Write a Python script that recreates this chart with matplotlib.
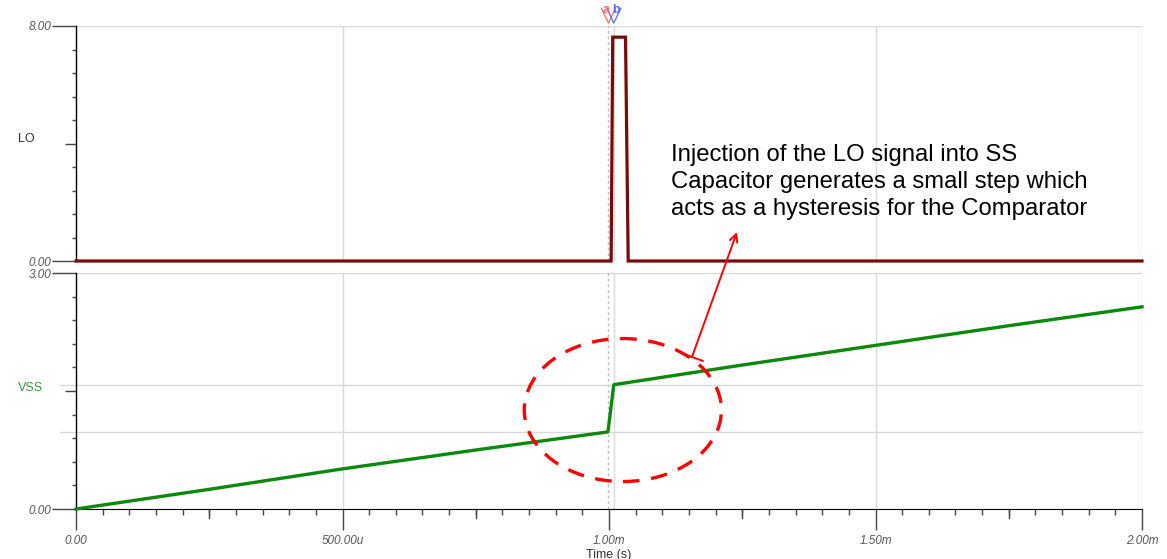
import matplotlib
matplotlib.use("Agg")
import matplotlib.pyplot as plt
from matplotlib.patches import Ellipse
from matplotlib.ticker import MultipleLocator

plt.rcParams['font.family'] = ['Liberation Sans', 'DejaVu Sans']

# time in ms
lo_t = [0.0, 1.004, 1.007, 1.031, 1.036, 2.0]
lo_v = [0.0, 0.0, 7.62, 7.62, 0.0, 0.0]

vss_t = [0.0, 0.25, 0.5, 0.75, 0.998, 1.009, 1.25, 1.5, 1.75, 2.0]
vss_v = [0.0, 0.25, 0.51, 0.75, 0.98, 1.58, 1.83, 2.08, 2.33, 2.57]

x_ticks = [0.0, 0.5, 1.0, 1.5, 2.0]
x_labels = ['0.00', '500.00u', '1.00m', '1.50m', '2.00m']

cursor_a = 0.999
cursor_b = 1.009
vss_a = 0.98
vss_b = 1.58

W, H = 1167, 559
fig = plt.figure(figsize=(W / 100, H / 100), dpi=100)
ax1 = fig.add_axes([76 / W, 1 - 261 / H, (1142 - 76) / W, 235 / H])
ax2 = fig.add_axes([76 / W, 1 - 509 / H, (1142 - 76) / W, 236 / H])

grid_c = '#d9d9d9'
lbl_c = '#555555'

for ax, top in ((ax1, 8.0), (ax2, 3.0)):
    ax.set_xlim(0, 2.0)
    ax.set_ylim(0, top)
    for s in ('top', 'right', 'bottom'):
        ax.spines[s].set_visible(False)
    ax.spines['left'].set_linewidth(1.0)
    ax.yaxis.set_minor_locator(MultipleLocator(top / 10))
    ax.set_yticks([0, top / 2, top])
    ax.set_yticklabels(['0.00', '', '%.2f' % top], fontsize=8.5,
                       fontstyle='italic', color=lbl_c)
    ax.tick_params(axis='y', which='major', length=17, width=1, color='#444444', pad=1)
    ax.tick_params(axis='y', which='minor', length=3, width=1, color='#444444')
    ax.axhline(top, color=grid_c, lw=1, zorder=0)
    for xv in (0.5, 1.5, 2.0):
        ax.axvline(xv, color=grid_c, lw=1, zorder=0)
    ax.axvline(cursor_a, color='#bbbbbb', lw=1, ls=(0, (2, 2)), zorder=0)
    ax.axvline(cursor_b, color=grid_c, lw=1, zorder=0)

# shorter middle ticks
for ax in (ax1, ax2):
    ax.get_yticklines()[2].set_markersize(8)

ax1.set_xticks([])
ax1.plot(lo_t, lo_v, color='#7a0a0a', lw=2.3, solid_joinstyle='miter', zorder=3,
         clip_on=False)

ax2.spines['bottom'].set_visible(True)
ax2.axhline(vss_a, color=grid_c, lw=1, zorder=0, xmin=-0.015, clip_on=False)
ax2.axhline(vss_b, color=grid_c, lw=1, zorder=0, xmin=-0.015, clip_on=False)
ax2.plot(vss_t, vss_v, color='#0a8a0a', lw=2.4, zorder=3, clip_on=False)
ax2.set_xticks(x_ticks)
ax2.set_xticklabels(x_labels, fontsize=8.5, fontstyle='italic', color=lbl_c)
ax2.xaxis.set_minor_locator(MultipleLocator(0.05))
ax2.tick_params(axis='x', which='major', length=15, width=1, color='#444444', pad=4)
ax2.tick_params(axis='x', which='minor', length=4, width=1, color='#444444')
for xv in (0.25, 0.75, 1.25, 1.75):
    ax2.plot([xv, xv], [0, -0.11], color='#444444', lw=1, clip_on=False)
ax2.set_xlabel('Time (s)', fontsize=9, color='#333333', labelpad=1)

fig.text(18 / W, 1 - 139 / H, 'LO', fontsize=9, color='#333333', va='center')
fig.text(18 / W, 1 - 388 / H, 'VSS', fontsize=9, color='#3a9a3a', va='center')

# cursor flags
for xv, c, lab, ha in ((cursor_a, '#ff6666', 'a', 'right'), (cursor_b, '#5566ff', 'b', 'left')):
    ax1.plot([xv - 0.013, xv, xv + 0.013], [8.6, 8.1, 8.6], color=c, lw=0.9, clip_on=False)
    ax1.text(xv + (0.003 if ha == 'right' else -0.003), 8.55, lab, color=c, fontsize=9,
             fontweight='bold', ha=ha, va='center', clip_on=False)

# annotation
ell = Ellipse((1.026, 1.258), 0.370, 1.818, fill=False, ec='red', lw=2.4,
              ls=(0, (5, 3.5)), zorder=4)
ax2.add_patch(ell)
ax1.text((671 - 76) / 533, (261 - 144) / 29.375,
         'Injection of the LO signal into SS\nCapacitor generates a small step which\n'
         'acts as a hysteresis for the Comparator',
         fontsize=17.2, va='top', ha='left', color='black', linespacing=1.3)
ax2.annotate('', xy=(737, H - 232), xycoords='figure pixels',
             xytext=(692, H - 357), textcoords='figure pixels',
             arrowprops=dict(arrowstyle=']->, widthA=0.6, lengthA=0', color='red', lw=1.4,
                             mutation_scale=14, shrinkA=0, shrinkB=0),
             annotation_clip=False)

fig.savefig('out.png', dpi=100)
